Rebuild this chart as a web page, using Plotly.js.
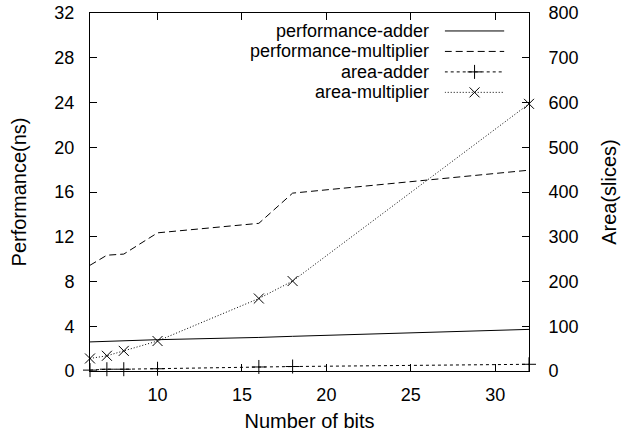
<!DOCTYPE html>
<html><head><meta charset="utf-8">
<script src="https://cdn.plot.ly/plotly-3.0.1.min.js"></script>
<style>html,body{margin:0;padding:0;background:#fff}#chart{width:626px;height:434px}</style>
</head><body><div id="chart"></div>
<script>
const bits = [6, 7, 8, 10, 16, 18, 32];
const perfAdder = [2.6, 2.65, 2.7, 2.8, 3.0, 3.1, 3.72];
const perfMultiplier = [9.45, 10.35, 10.45, 12.35, 13.2, 15.9, 17.95];
const areaAdder = [2, 4, 4, 5, 9, 10, 15];
const areaMultiplier = [28, 34, 45, 67, 162, 201, 597];
const seriesNames = ['performance-adder', 'performance-multiplier', 'area-adder', 'area-multiplier'];
const dashes = ['solid', '7px,4px', '3px,3px', '1px,2px'];
const symbols = [null, null, 'cross-thin', 'x-thin'];
const leftTicks = [0, 4, 8, 12, 16, 20, 24, 28, 32];
const rightTicks = [0, 100, 200, 300, 400, 500, 600, 700, 800];
const xTicks = [10, 15, 20, 25, 30];

const fam = 'Liberation Sans, Arial, sans-serif';
const tickFont = {family: fam, size: 18, color: '#000'};
const font = {family: fam, size: 20, color: '#000'};
const legendFont = {family: fam, size: 18, color: '#000'};
const ln = (i) => ({color: '#000', width: 1, dash: dashes[i]});
const mk = (i) => ({symbol: symbols[i], size: 10, color: '#000', line: {color: '#000', width: 1}});

const traces = [
  {x: bits, y: perfAdder, mode: 'lines', line: ln(0), yaxis: 'y', showlegend: false},
  {x: bits, y: perfMultiplier, mode: 'lines', line: ln(1), yaxis: 'y', showlegend: false},
  {x: bits, y: areaAdder, mode: 'lines+markers', line: ln(2), marker: mk(2), yaxis: 'y2', showlegend: false, cliponaxis: false},
  {x: bits, y: areaMultiplier, mode: 'lines+markers', line: ln(3), marker: mk(3), yaxis: 'y2', showlegend: false, cliponaxis: false}
];
// legend samples (drawn on a hidden helper axis)
seriesNames.forEach((n, i) => {
  traces.push({x: [0, 1], y: [i, i], mode: 'lines', line: ln(i), xaxis: 'x3', yaxis: 'y3', showlegend: false, hoverinfo: 'skip', cliponaxis: false});
  if (symbols[i]) traces.push({x: [0.5], y: [i], mode: 'markers', marker: mk(i), xaxis: 'x3', yaxis: 'y3', showlegend: false, hoverinfo: 'skip', cliponaxis: false});
});

const annotations = seriesNames.map((n, i) => ({
  text: n, x: 0.7736, xref: 'paper', xanchor: 'right', y: i, yref: 'y3', yanchor: 'middle',
  showarrow: false, font: legendFont, borderpad: 0
}));

const layout = {
  width: 626, height: 434,
  margin: {l: 90, r: 96.5, t: 12.5, b: 63},
  paper_bgcolor: '#fff', plot_bgcolor: '#fff',
  font: font, showlegend: false,
  xaxis: {range: [6, 32], tickvals: xTicks, ticks: 'inside', ticklen: 7, tickcolor: '#000',
    showline: true, linecolor: '#000', linewidth: 1, mirror: 'ticks', showgrid: false, zeroline: false,
    ticklabelstandoff: 7, tickfont: tickFont,
    title: {text: 'Number of bits', font: font, standoff: 10}},
  yaxis: {range: [0, 32], tickvals: leftTicks, ticks: 'inside', ticklen: 7, tickcolor: '#000',
    showline: true, linecolor: '#000', linewidth: 1, mirror: 'ticks', showgrid: false, zeroline: false,
    ticklabelstandoff: 11, tickfont: tickFont,
    title: {text: 'Performance(ns)', font: font, standoff: 22}},
  yaxis2: {range: [0, 800], tickvals: rightTicks, overlaying: 'y', side: 'right', ticks: 'inside', ticklen: 7,
    tickcolor: '#000', showline: true, linecolor: '#000', showgrid: false, zeroline: false,
    ticklabelstandoff: 15, tickfont: tickFont,
    title: {text: 'Area(slices)', font: font, standoff: 24}},
  xaxis3: {domain: [0.808, 0.944], range: [0, 1], visible: false, anchor: 'y3', fixedrange: true},
  yaxis3: {domain: [0.7497, 0.9784], range: [3.5, -0.5], visible: false, anchor: 'x3', fixedrange: true},
  annotations: annotations
};
Plotly.newPlot('chart', traces, layout, {staticPlot: true});
</script></body></html>
